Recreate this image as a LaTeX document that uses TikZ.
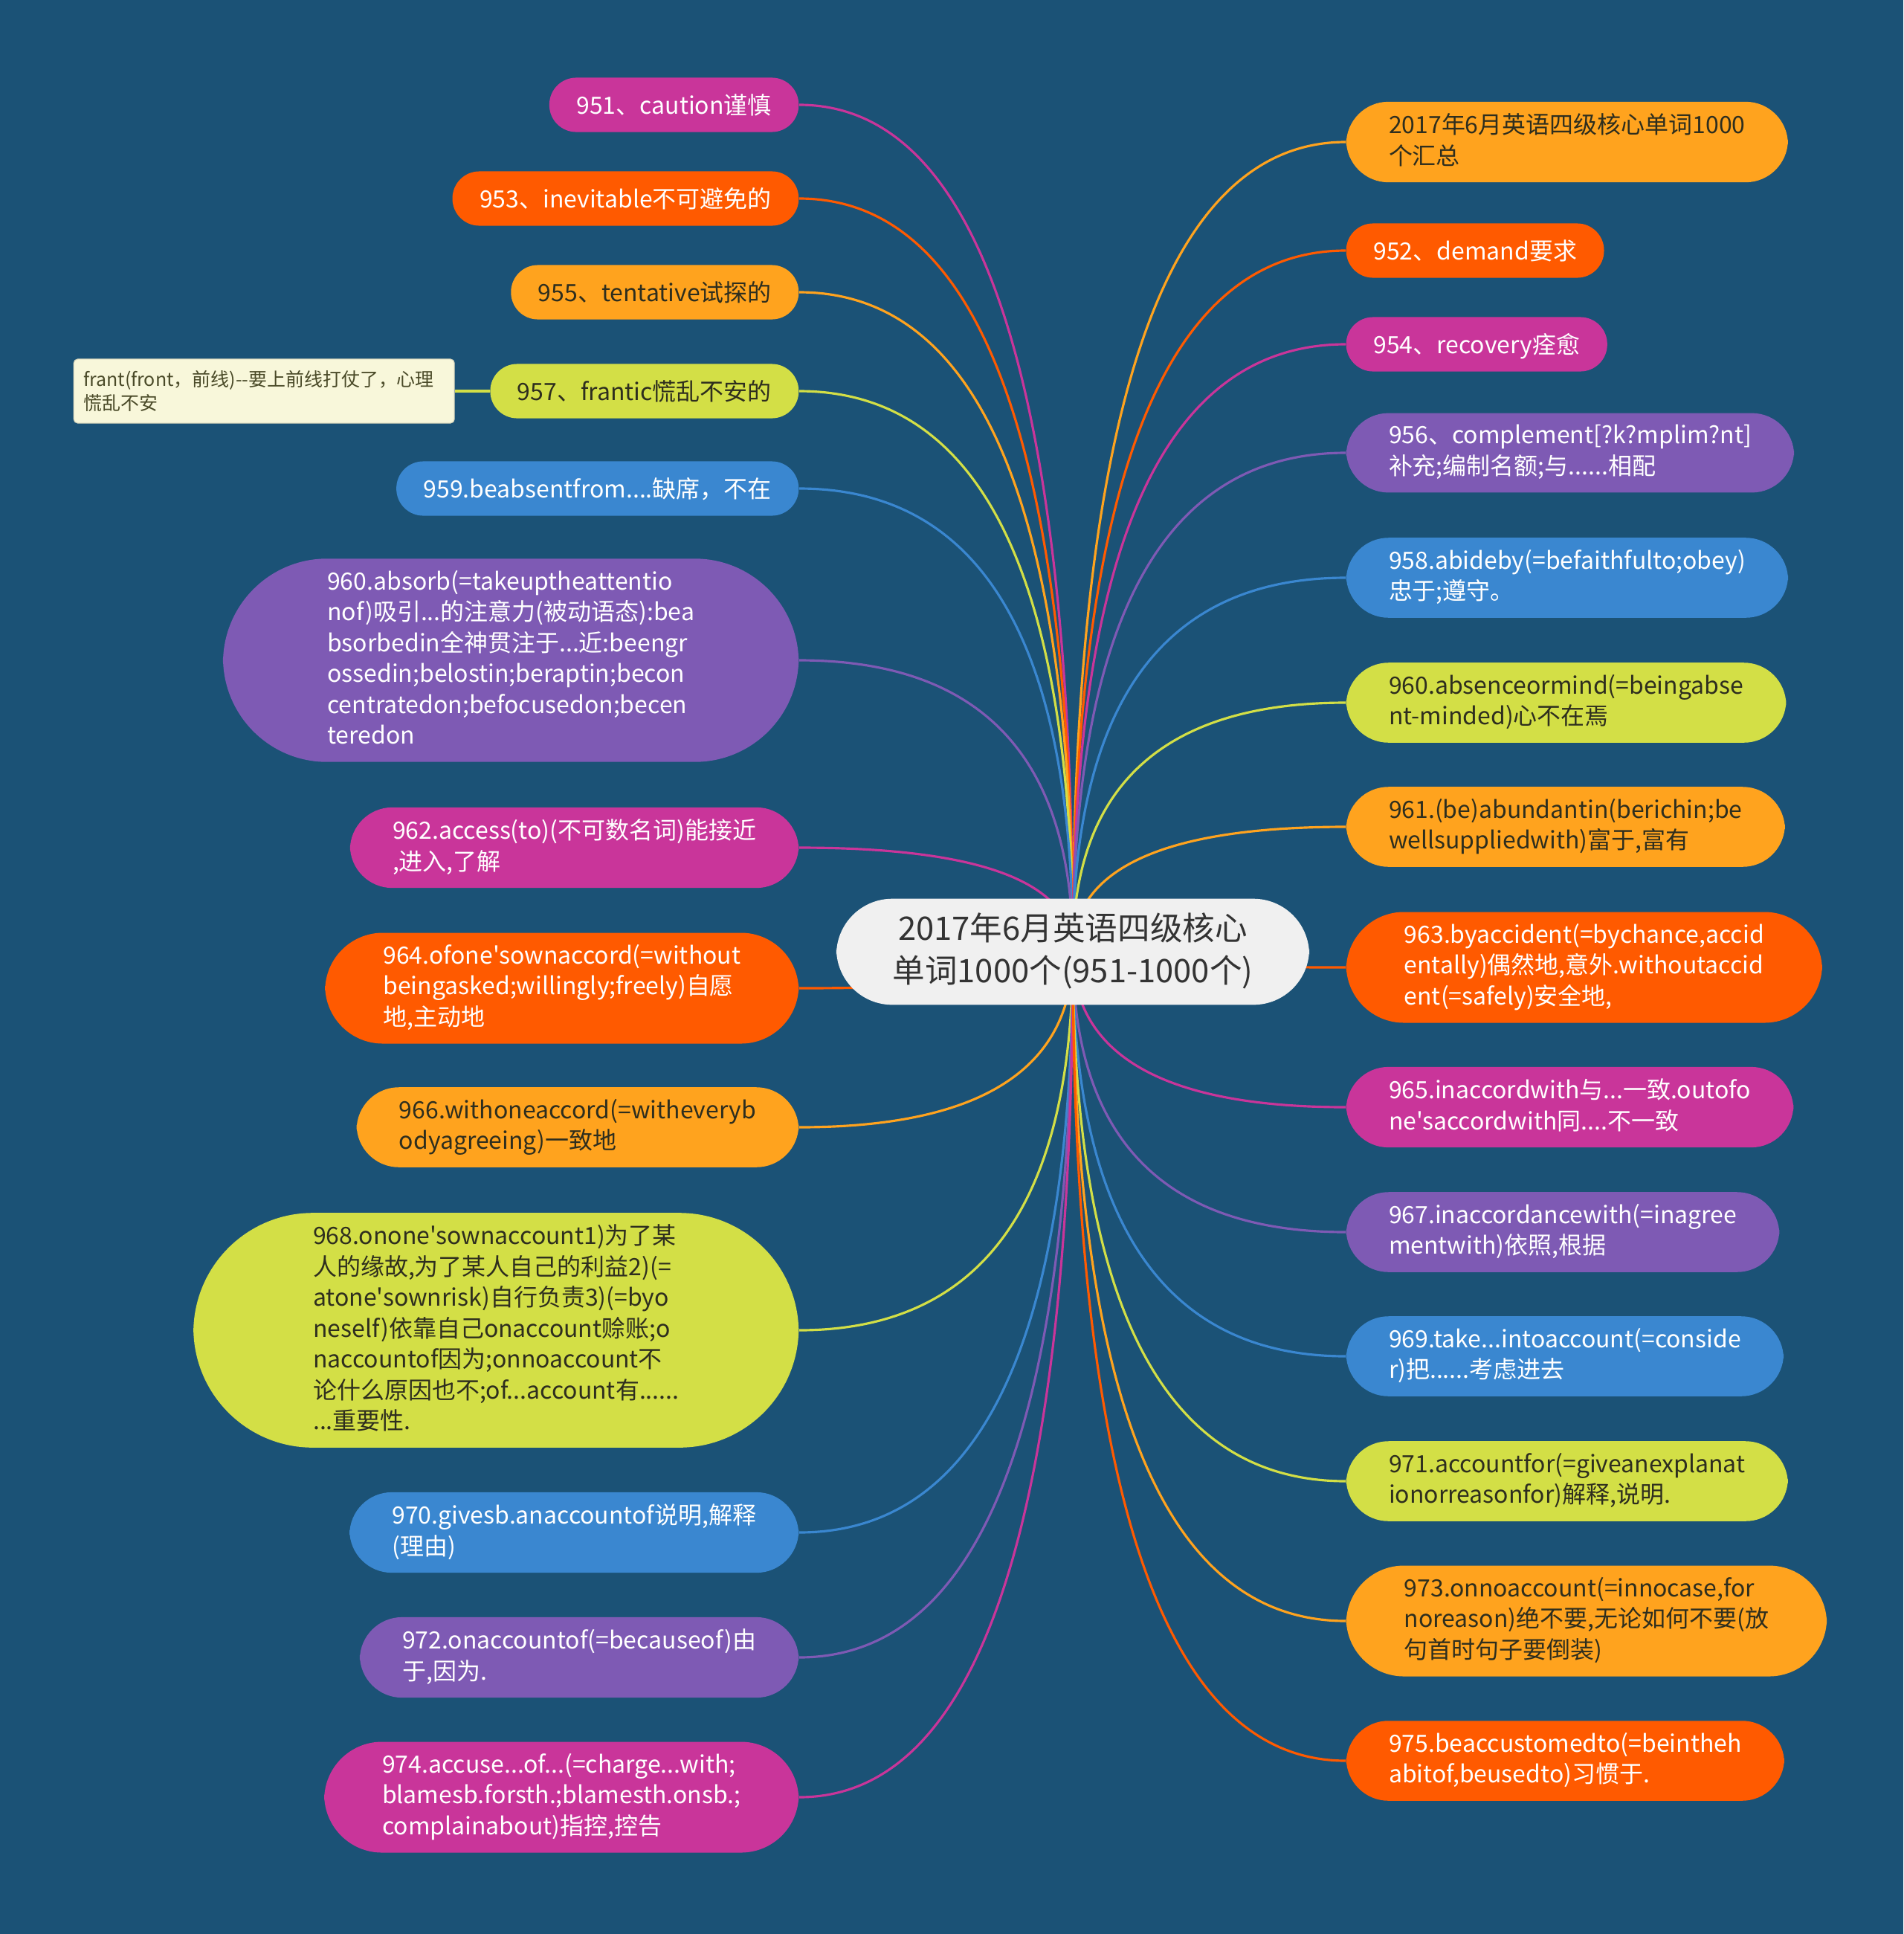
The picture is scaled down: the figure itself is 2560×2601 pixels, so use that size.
\documentclass[tikz,border=0pt]{standalone}
\usepackage{fontspec}
\setmainfont{Noto Sans CJK SC}[Ligatures=TeXOff]
\usetikzlibrary{positioning,calc,backgrounds}
\definecolor{bgblue}{HTML}{1B5276}
\definecolor{cmag}{HTML}{C9359A}
\definecolor{cred}{HTML}{FF5A00}
\definecolor{cora}{HTML}{FFA31E}
\definecolor{clim}{HTML}{D3DF46}
\definecolor{cblu}{HTML}{3A87D0}
\definecolor{cpur}{HTML}{7E5AB4}
\definecolor{croot}{HTML}{F0F0F0}
\definecolor{cnote}{HTML}{F8F7DA}
\definecolor{darktext}{HTML}{2E2E1E}
\definecolor{notetext}{HTML}{4A4A28}
\newcommand\midstrut{\rule[-.2\baselineskip]{0pt}{\baselineskip}}
\tikzset{
 leaf/.style={rectangle,inner ysep=4.5pt,align=left,h1,
  font=\fontsize{9.1}{11.8}\selectfont,
  execute at begin node=\midstrut,execute at end node=\midstrut},
 h1/.style={rounded corners=10.3pt,inner xsep=10.4pt},
 h2/.style={rounded corners=16.2pt,inner xsep=16.3pt},
 h3/.style={rounded corners=22.1pt,inner xsep=22.2pt},
 h6/.style={rounded corners=39.8pt,inner xsep=39.9pt},
 h7/.style={rounded corners=45.7pt,inner xsep=45.8pt},
 light/.style={leaf,text=white},
 dark/.style={leaf,text=darktext},
 link/.style={line width=.9pt,
  to path={.. controls ($(\tikztostart)!2/3!(\tikztostart |- \tikztotarget)$)
   and ($(\tikztotarget)!2/3!(\tikztostart |- \tikztotarget)$) .. (\tikztotarget)}},
}
\begin{document}
\begin{tikzpicture}[x=.1mm,y=-.1mm]
 \node[rectangle,rounded corners=21.4pt,fill=croot,text=black!80,align=center,
  font=\fontsize{12.4}{16.1}\selectfont,inner xsep=21.5pt,inner ysep=5.4pt,
  execute at begin node=\midstrut,execute at end node=\midstrut]
  (root) at (1443,1280) {2017年6月英语四级核心\\单词1000个(951-1000个)};
 \path[every node/.append style={anchor=east}]
 (1075,141) node[light,fill=cmag] (n951) {951、caution谨慎} % <<< trái
 ++(0,126) node[light,fill=cred] (n953) {953、inevitable不可避免的}
 ++(0,126) node[dark,fill=cora] (n955) {955、tentative试探的}
 ++(0,133) node[dark,fill=clim] (n957) {957、frantic慌乱不安的}
 ++(0,131) node[light,fill=cblu] (n959) {959.beabsentfrom....缺席，不在}
 ++(0,231) node[light,h6,fill=cpur] (n960a) {960.absorb(=takeuptheattentio\\nof)吸引...的注意力(被动语态):bea\\bsorbedin全神贯注于...近:beengr\\ossedin;belostin;beraptin;becon\\centratedon;befocusedon;becen\\teredon}
 ++(0,252) node[light,h2,fill=cmag] (n962) {962.access(to)(不可数名词)能接近\\,进入,了解}
 ++(0,189) node[light,h3,fill=cred] (n964) {964.ofone'sownaccord(=without\\beingasked;willingly;freely)自愿\\地,主动地}
 ++(0,187) node[dark,h2,fill=cora] (n966) {966.withoneaccord(=witheveryb\\odyagreeing)一致地}
 ++(0,273) node[dark,h7,fill=clim] (n968) {968.onone'sownaccount1)为了某\\人的缘故,为了某人自己的利益2)(=\\atone'sownrisk)自行负责3)(=byo\\neself)依靠自己onaccount赊账;o\\naccountof因为;onnoaccount不\\论什么原因也不;of...account有......\\...重要性.}
 ++(0,272) node[light,h2,fill=cblu] (n970) {970.givesb.anaccountof说明,解释\\(理由)}
 ++(0,168) node[light,h2,fill=cpur] (n972) {972.onaccountof(=becauseof)由\\于,因为.}
 ++(0,188) node[light,h3,fill=cmag] (n974) {974.accuse...of...(=charge...with;\\blamesb.forsth.;blamesth.onsb.;\\complainabout)指控,控告};
 \path[every node/.append style={anchor=west}]
 (1810,191) node[dark,h2,fill=cora] (n1000) {2017年6月英语四级核心单词1000\\个汇总} % <<< phải
 ++(0,146) node[light,fill=cred] (n952) {952、demand要求}
 ++(0,126) node[light,fill=cmag] (n954) {954、recovery痊愈}
 ++(0,146) node[light,h2,fill=cpur] (n956) {956、complement[?k?mplim?nt]\\补充;编制名额;与......相配}
 ++(0,168) node[light,h2,fill=cblu] (n958) {958.abideby(=befaithfulto;obey)\\忠于;遵守。}
 ++(0,168) node[dark,h2,fill=clim] (n960m) {960.absenceormind(=beingabse\\nt-minded)心不在焉}
 ++(0,167) node[dark,h2,fill=cora] (n961) {961.(be)abundantin(berichin;be\\wellsuppliedwith)富于,富有}
 ++(0,189) node[light,h3,fill=cred] (n963) {963.byaccident(=bychance,accid\\entally)偶然地,意外.withoutaccid\\ent(=safely)安全地,}
 ++(0,188) node[light,h2,fill=cmag] (n965) {965.inaccordwith与...一致.outofo\\ne'saccordwith同....不一致}
 ++(0,168) node[light,h2,fill=cpur] (n967) {967.inaccordancewith(=inagree\\mentwith)依照,根据}
 ++(0,167) node[light,h2,fill=cblu] (n969) {969.take...intoaccount(=conside\\r)把......考虑进去}
 ++(0,168) node[dark,h2,fill=clim] (n971) {971.accountfor(=giveanexplanat\\ionorreasonfor)解释,说明.}
 ++(0,188) node[dark,h3,fill=cora] (n973) {973.onnoaccount(=innocase,for\\noreason)绝不要,无论如何不要(放\\句首时句子要倒装)}
 ++(0,188) node[light,h2,fill=cred] (n975) {975.beaccustomedto(=beintheh\\abitof,beusedto)习惯于.};
 \node[rectangle,rounded corners=1.5pt,fill=cnote,draw=cnote!85!black,line width=.3pt,
  text=notetext,font=\fontsize{7.1}{9}\selectfont,align=left,text width=48.6mm,
  inner xsep=3.7pt,inner ysep=3.25pt,execute at begin node=\midstrut,
  execute at end node=\midstrut,left=4.7mm of n957]
  (tip) {frant(front，前线)--要上前线打仗了，心理\\慌乱不安};
 \begin{pgfonlayer}{background}
 \fill[bgblue] (0,0) rectangle (2560,2601);
 \draw[link,cmag] (root.center) to (n951.east);
 \draw[link,cred] (root.center) to (n953.east);
 \draw[link,cora] (root.center) to (n955.east);
 \draw[link,clim] (root.center) to (n957.east);
 \draw[link,cblu] (root.center) to (n959.east);
 \draw[link,cpur] (root.center) to (n960a.east);
 \draw[link,cmag] (root.center) to (n962.east);
 \draw[link,cred] (root.center) to (n964.east);
 \draw[link,cora] (root.center) to (n966.east);
 \draw[link,clim] (root.center) to (n968.east);
 \draw[link,cblu] (root.center) to (n970.east);
 \draw[link,cpur] (root.center) to (n972.east);
 \draw[link,cmag] (root.center) to (n974.east);
 \draw[link,cora] (root.center) to (n1000.west);
 \draw[link,cred] (root.center) to (n952.west);
 \draw[link,cmag] (root.center) to (n954.west);
 \draw[link,cpur] (root.center) to (n956.west);
 \draw[link,cblu] (root.center) to (n958.west);
 \draw[link,clim] (root.center) to (n960m.west);
 \draw[link,cora] (root.center) to (n961.west);
 \draw[link,cred] (root.center) to (n963.west);
 \draw[link,cmag] (root.center) to (n965.west);
 \draw[link,cpur] (root.center) to (n967.west);
 \draw[link,cblu] (root.center) to (n969.west);
 \draw[link,clim] (root.center) to (n971.west);
 \draw[link,cora] (root.center) to (n973.west);
 \draw[link,cred] (root.center) to (n975.west);
 \draw[clim,line width=1.2pt] (n957.west) -- (tip.east);
 \end{pgfonlayer}
\end{tikzpicture}
\end{document}
